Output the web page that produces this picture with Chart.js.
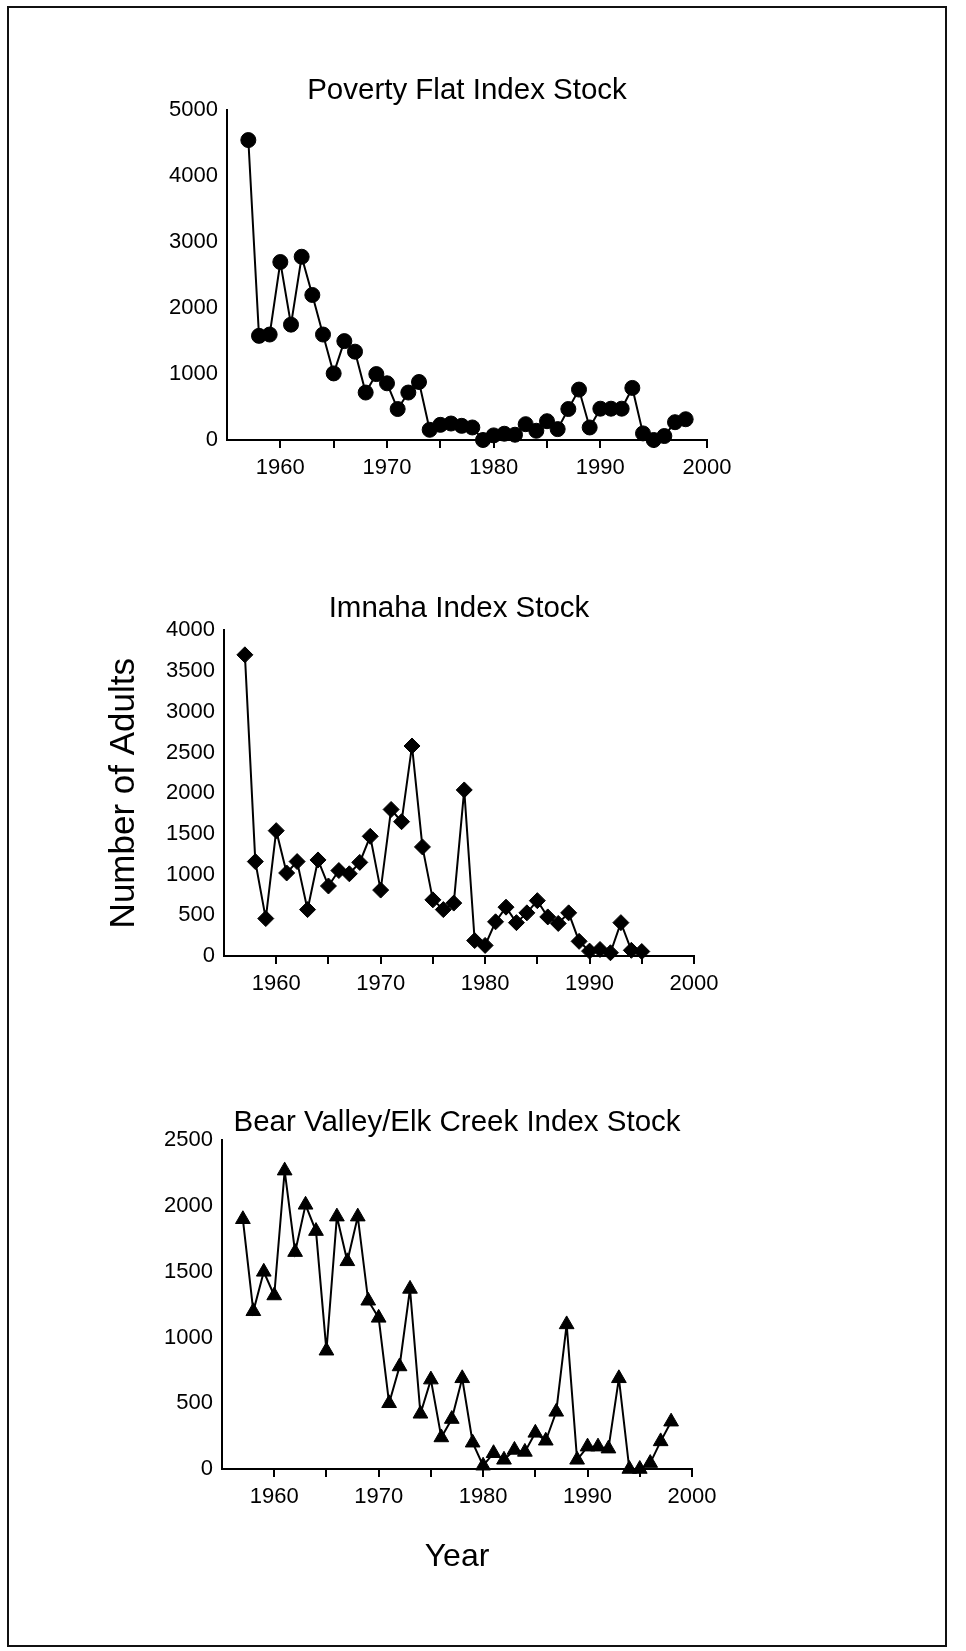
<!DOCTYPE html>
<html>
<head>
<meta charset="utf-8">
<title>Index stocks - number of adults</title>
<script src="https://cdn.jsdelivr.net/npm/chart.js@4.4.1/dist/chart.umd.min.js"></script>
<style>
    html, body { margin: 0; padding: 0; background: #fff; }
    body { position: relative; width: 966px; height: 1651px; overflow: hidden; }
    .frame { position: absolute; left: 7px; top: 6px; width: 936px; height: 1637px; border: 2px solid #111; }
    canvas { position: absolute; }
</style>
</head>
<body>
<div class="frame"></div>
<canvas id="poverty-chart" width="603" height="407" style="left:140px; top:73px;"></canvas>
<canvas id="imnaha-chart" width="627" height="405" style="left:103px; top:591px;"></canvas>
<canvas id="bear-valley-chart" width="588" height="471" style="left:140px; top:1105px;"></canvas>
<script>
// Values (adult counts per year)
const povertyYears = [1957, 1958, 1959, 1960, 1961, 1962, 1963, 1964, 1965, 1966,
    1967, 1968, 1969, 1970, 1971, 1972, 1973, 1974, 1975, 1976,
    1977, 1978, 1979, 1980, 1981, 1982, 1983, 1984, 1985, 1986,
    1987, 1988, 1989, 1990, 1991, 1992, 1993, 1994, 1995, 1996,
    1997, 1998];
const povertyAdults = [4550, 1580, 1600, 2700, 1750, 2780, 2200, 1600, 1010, 1500,
    1340, 720, 1000, 860, 470, 720, 880, 155, 230, 250,
    215, 190, 0, 70, 95, 80, 240, 140, 285, 165,
    470, 765, 190, 475, 475, 475, 790, 100, 0, 60,
    270, 315];

const imnahaYears = [1957, 1958, 1959, 1960, 1961, 1962, 1963, 1964, 1965, 1966,
    1967, 1968, 1969, 1970, 1971, 1972, 1973, 1974, 1975, 1976,
    1977, 1978, 1979, 1980, 1981, 1982, 1983, 1984, 1985, 1986,
    1987, 1988, 1989, 1990, 1991, 1992, 1993, 1994, 1995];
const imnahaAdults = [3700, 1160, 460, 1540, 1020, 1160, 570, 1180, 860, 1050,
    1010, 1150, 1470, 810, 1800, 1650, 2580, 1340, 690, 570,
    650, 2040, 190, 130, 420, 600, 410, 530, 680, 480,
    400, 530, 180, 60, 80, 40, 410, 70, 55];

const bearValleyYears = [1957, 1958, 1959, 1960, 1961, 1962, 1963, 1964, 1965, 1966,
    1967, 1968, 1969, 1970, 1971, 1972, 1973, 1974, 1975, 1976,
    1977, 1978, 1979, 1980, 1981, 1982, 1983, 1984, 1985, 1986,
    1987, 1988, 1989, 1990, 1991, 1992, 1993, 1994, 1995, 1996,
    1997, 1998];
const bearValleyAdults = [1900, 1200, 1500, 1320, 2270, 1650, 2010, 1810, 900, 1920,
    1580, 1920, 1280, 1150, 500, 780, 1370, 420, 680, 240,
    380, 690, 200, 25, 120, 70, 145, 130, 275, 215,
    435, 1100, 70, 170, 170, 155, 690, 0, 0, 45,
    210, 360];

// only every other 5-year tick gets a label
const yearTickLabels = [1960, 1970, 1980, 1990, 2000];

Chart.defaults.font.family = '"Liberation Sans", Arial, Helvetica, sans-serif';
Chart.defaults.color = '#000';

/**
 * Build one panel. Layout numbers are tuned so the plot areas
 * line up with the scanned page.
 */
function makeChart(id, opts) {
    const ctx = document.getElementById(id).getContext('2d');

    return new Chart(ctx, {
        type: 'line',
        data: {
            datasets: [
                {
                    label: opts.title,
                    data: opts.years.map((year, i) => ({ x: year, y: opts.values[i] })),
                    borderColor: '#000',
                    backgroundColor: '#000',
                    borderWidth: 2,
                    tension: 0,
                    pointStyle: opts.pointStyle,
                    pointRadius: opts.pointRadius,
                    pointBorderWidth: 1,
                    pointBackgroundColor: '#000',
                    pointBorderColor: '#000',
                    clip: false
                }
            ]
        },
        options: {
            responsive: false,
            animation: false,
            devicePixelRatio: 1,
            layout: {
                padding: { left: 0, right: 36, top: 0, bottom: 0 }
            },
            plugins: {
                legend: { display: false },
                tooltip: { enabled: false },
                title: {
                    display: true,
                    text: opts.title,
                    fullSize: false,
                    color: '#000',
                    font: { size: 29.5, weight: 'normal', lineHeight: 1.2 },
                    padding: { top: 0, bottom: opts.titleGap }
                }
            },
            scales: {
                x: {
                    type: 'linear',
                    min: 1955,
                    max: 2000,
                    afterBuildTicks: scale => {
                        // no tick mark where the axis starts
                        scale.ticks = scale.ticks.filter(t => t.value > 1955);
                    },
                    afterFit: scale => {
                        scale.height = opts.xAxisHeight;
                    },
                    ticks: {
                        stepSize: 5,
                        autoSkip: false,
                        maxRotation: 0,
                        padding: 7,
                        color: '#000',
                        font: { size: 22 },
                        callback: value => yearTickLabels.includes(value) ? String(value) : ''
                    },
                    grid: {
                        display: true,
                        drawOnChartArea: false,
                        drawTicks: true,
                        tickLength: 8,
                        color: '#000',
                        lineWidth: 2
                    },
                    border: { display: true, color: '#000', width: 2 },
                    title: {
                        display: !!opts.xTitle,
                        text: opts.xTitle || '',
                        color: '#000',
                        font: { size: 32 },
                        padding: { top: 0, bottom: 0 }
                    }
                },
                y: {
                    min: 0,
                    max: opts.yMax,
                    afterFit: scale => {
                        scale.width = opts.yAxisWidth;
                    },
                    ticks: {
                        stepSize: opts.yStep,
                        padding: 9,
                        color: '#000',
                        font: { size: 22 },
                        callback: value => String(value)
                    },
                    grid: { display: false, drawTicks: false },
                    border: { display: true, color: '#000', width: 2 },
                    title: {
                        display: !!opts.yTitle,
                        text: opts.yTitle || '',
                        color: '#000',
                        font: { size: 35 },
                        padding: { top: 0, bottom: 0 }
                    }
                }
            }
        }
    });
}

makeChart('poverty-chart', {
    title: 'Poverty Flat Index Stock',
    years: povertyYears,
    values: povertyAdults,
    pointStyle: 'circle',
    pointRadius: 7.5,
    yMax: 5000,
    yStep: 1000,
    yAxisWidth: 87,
    xAxisHeight: 40,
    titleGap: 2
});

makeChart('imnaha-chart', {
    title: 'Imnaha Index Stock',
    years: imnahaYears,
    values: imnahaAdults,
    pointStyle: 'rectRot',
    pointRadius: 8,
    yMax: 4000,
    yStep: 500,
    yAxisWidth: 121,
    xAxisHeight: 40,
    titleGap: 4,
    yTitle: 'Number of Adults'
});

makeChart('bear-valley-chart', {
    title: 'Bear Valley/Elk Creek Index Stock',
    years: bearValleyYears,
    values: bearValleyAdults,
    pointStyle: 'triangle',
    pointRadius: 8.5,
    yMax: 2500,
    yStep: 500,
    yAxisWidth: 82,
    xAxisHeight: 107,
    titleGap: 0,
    xTitle: 'Year'
});
</script>
</body>
</html>
